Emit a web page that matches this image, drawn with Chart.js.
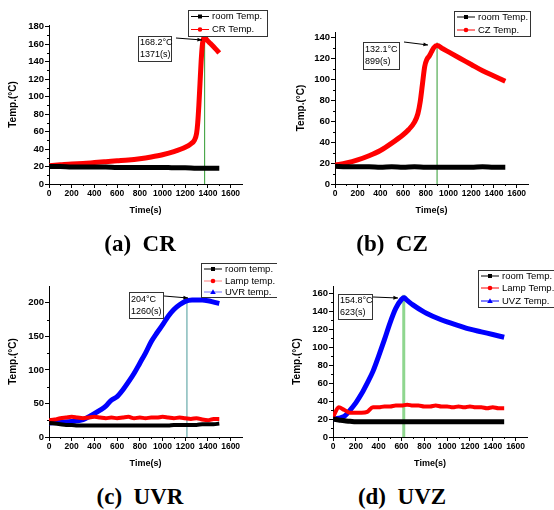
<!DOCTYPE html>
<html>
<head>
<meta charset="utf-8">
<script src="https://cdn.jsdelivr.net/npm/chart.js@4.4.1/dist/chart.umd.min.js"></script>
<style>
  body { margin: 0; background: #fff; width: 554px; height: 510px; position: relative; overflow: hidden; }
  .box { position: absolute; }
  .cap { position: absolute; font: bold 23px "Liberation Serif", serif; white-space: pre; transform: translate(-50%, -50%); color: #000; }
</style>
</head>
<body>
<div class="box" style="left:0;top:0"><canvas id="cA" width="277" height="216"></canvas></div>
<div class="box" style="left:277px;top:0"><canvas id="cB" width="277" height="216"></canvas></div>
<div class="box" style="left:0;top:250px"><canvas id="cC" width="277" height="219"></canvas></div>
<div class="box" style="left:277px;top:250px"><canvas id="cD" width="277" height="219"></canvas></div>
<div class="cap" style="left:140px;top:244px">(a)  CR</div>
<div class="cap" style="left:392px;top:244px">(b)  CZ</div>
<div class="cap" style="left:140px;top:497px">(c)  UVR</div>
<div class="cap" style="left:402px;top:497px">(d)  UVZ</div>
<script>
// ---- tick labels ----
var xTicks = [0, 200, 400, 600, 800, 1000, 1200, 1400, 1600];
var yTicksA = [0, 20, 40, 60, 80, 100, 120, 140, 160, 180];
var yTicksB = [0, 20, 40, 60, 80, 100, 120, 140];
var yTicksC = [0, 50, 100, 150, 200];
var yTicksD = [0, 20, 40, 60, 80, 100, 120, 140, 160];

// ---- (a) CR ----
var crTime = [0, 100, 200, 300, 400, 500, 600, 700, 800, 900, 1000, 1100, 1200, 1250, 1280, 1300, 1310, 1320, 1330, 1340, 1350, 1360, 1371, 1390, 1420, 1450, 1480, 1500];
var crTemp = [21, 22, 23, 23.5, 24.5, 25.5, 26.5, 27.5, 29, 31, 33.5, 37, 42, 46, 50, 58, 70, 90, 115, 140, 158, 166, 168.2, 165, 161, 157, 153, 150];
var roomTimeA = [0, 100, 200, 300, 400, 500, 600, 700, 800, 900, 1000, 1100, 1200, 1300, 1400, 1500];
var roomTempA = [20, 20, 19.5, 19.5, 19.5, 19.5, 19, 19, 19, 19, 19, 18.5, 18.5, 18, 18, 18];
var peakA = [1371, 168.2];

// ---- (b) CZ ----
var czTime = [0, 100, 200, 300, 400, 500, 600, 650, 700, 730, 750, 770, 790, 810, 830, 850, 870, 899, 950, 1000, 1100, 1200, 1300, 1400, 1500];
var czTemp = [18, 20, 23, 27, 32, 39, 47, 52, 59, 67, 78, 95, 112, 119, 122, 126, 130, 132.1, 129, 126, 120, 114, 108, 103, 98];
var roomTimeB = [0, 100, 200, 300, 400, 500, 600, 700, 800, 900, 1000, 1100, 1200, 1300, 1400, 1500];
var roomTempB = [17, 16.5, 16.5, 16.5, 16, 16.5, 16, 16.5, 16, 16, 16, 16, 16, 16.5, 16, 16];
var peakB = [899, 132.1];

// ---- (c) UVR ----
var uvrTime = [0, 100, 200, 300, 380, 450, 500, 550, 600, 650, 700, 750, 800, 850, 900, 950, 1000, 1050, 1100, 1150, 1200, 1260, 1300, 1350, 1400, 1450, 1500];
var uvrTemp = [21, 22, 23, 26, 33, 40, 46, 55, 60, 70, 82, 95, 110, 125, 142, 155, 167, 180, 190, 197, 202, 204, 204, 204, 203, 201, 199];
var stepTime = [0, 50, 100, 150, 200, 250, 300, 350, 400, 450, 500, 550, 600, 650, 700, 750, 800, 850, 900, 950, 1000, 1050, 1100, 1150, 1200, 1250, 1300, 1350, 1400, 1450, 1500];
var lampTempC = [25, 26, 28, 29, 30, 29, 28, 29, 30, 29, 28, 29, 28, 29, 30, 28, 29, 28, 29, 29, 30, 29, 28, 29, 28, 27, 28, 26, 25, 27, 27];
var roomTempC = [21, 20, 19, 18, 18, 17, 17, 17, 17, 17, 17, 17, 17, 17, 17, 17, 17, 17, 17, 17, 17, 17, 18, 18, 18, 18, 18, 19, 19, 19, 20];
var peakC = [1215, 204];

// ---- (d) UVZ ----
var uvzTime = [0, 50, 100, 150, 200, 250, 300, 350, 400, 450, 500, 550, 600, 623, 650, 700, 800, 900, 1000, 1100, 1200, 1300, 1400, 1500];
var uvzTemp = [20, 21, 23, 30, 38, 48, 60, 73, 90, 108, 127, 143, 153, 154.8, 152, 147, 139, 133, 128, 124, 120, 117, 114, 111];
var lampTempD = [22, 33, 30, 27, 27, 27, 28, 33, 33, 34, 34, 35, 35, 36, 35, 35, 34, 34, 35, 34, 34, 33, 34, 33, 34, 33, 33, 32, 33, 32, 32];
var roomTempD = [20, 19, 18, 17.5, 17, 17, 17, 17, 17, 17, 17, 17, 17, 17, 17, 17, 17, 17, 17, 17, 17, 17, 17, 17, 17, 17, 17, 17, 17, 17, 17];
var peakD = [620, 154.8];

function pts(xs, ys) {
  return xs.map(function (x, i) { return { x: x, y: ys[i] }; });
}

function marker(ctx, shape, x, y, color) {
  ctx.fillStyle = color;
  ctx.beginPath();
  if (shape === 'square') ctx.rect(x - 2, y - 2, 4, 4);
  else if (shape === 'circle') ctx.arc(x, y, 2.3, 0, Math.PI * 2);
  else { ctx.moveTo(x, y - 2.8); ctx.lineTo(x + 2.8, y + 2); ctx.lineTo(x - 2.8, y + 2); ctx.closePath(); }
  ctx.fill();
}

// vertical peak line, annotation box, arrow, framed legend, minor ticks
var decoPlugin = {
  id: 'deco',
  beforeDatasetsDraw: function (chart, args, o) {
    var ctx = chart.ctx, xs = chart.scales.x, ys = chart.scales.y;
    var px = xs.getPixelForValue(o.peak[0]);
    ctx.save();
    ctx.strokeStyle = o.vColor;
    ctx.lineWidth = o.vWidth;
    ctx.beginPath();
    ctx.moveTo(px, chart.chartArea.bottom);
    ctx.lineTo(px, ys.getPixelForValue(o.peak[1]) - 3);
    ctx.stroke();
    ctx.restore();
  },
  afterDraw: function (chart, args, o) {
    var ctx = chart.ctx, xs = chart.scales.x, ys = chart.scales.y, a = chart.chartArea;
    ctx.save();
    // minor ticks
    ctx.strokeStyle = '#000';
    ctx.lineWidth = 1;
    ctx.beginPath();
    for (var i = 0; i < xTicks.length; i++) {
      var mx = xs.getPixelForValue(xTicks[i] + 100);
      if (mx < a.right) { ctx.moveTo(Math.round(mx) + 0.5, a.bottom); ctx.lineTo(Math.round(mx) + 0.5, a.bottom + 2); }
    }
    var yt = o.yTicks, st = yt[1] - yt[0];
    for (var j = 0; j < yt.length; j++) {
      var my = ys.getPixelForValue(yt[j] + st / 2);
      if (my > a.top) { ctx.moveTo(a.left, Math.round(my) + 0.5); ctx.lineTo(a.left - 2, Math.round(my) + 0.5); }
    }
    ctx.stroke();

    // annotation box
    var n = o.note;
    ctx.fillStyle = '#fff';
    ctx.fillRect(n.x, n.y, n.w, n.h);
    ctx.strokeStyle = '#333';
    ctx.strokeRect(n.x + 0.5, n.y + 0.5, n.w, n.h);
    ctx.fillStyle = '#000';
    ctx.font = '9px "Liberation Sans", Arial, sans-serif';
    ctx.textBaseline = 'middle';
    ctx.textAlign = 'left';
    ctx.fillText(n.lines[0], n.x + 2, n.y + n.h * 0.28);
    ctx.fillText(n.lines[1], n.x + 2, n.y + n.h * 0.74);

    // arrow
    var ar = o.arrow;
    ctx.strokeStyle = '#000';
    ctx.beginPath();
    ctx.moveTo(ar[0], ar[1]);
    ctx.lineTo(ar[2], ar[3]);
    ctx.stroke();
    var ang = Math.atan2(ar[3] - ar[1], ar[2] - ar[0]);
    ctx.fillStyle = '#000';
    ctx.beginPath();
    ctx.moveTo(ar[2], ar[3]);
    ctx.lineTo(ar[2] - 5 * Math.cos(ang - 0.4), ar[3] - 5 * Math.sin(ang - 0.4));
    ctx.lineTo(ar[2] - 5 * Math.cos(ang + 0.4), ar[3] - 5 * Math.sin(ang + 0.4));
    ctx.closePath();
    ctx.fill();

    // framed legend
    var L = o.legend;
    ctx.fillStyle = '#fff';
    ctx.fillRect(L.x, L.y, L.w, L.h);
    ctx.strokeStyle = '#333';
    ctx.strokeRect(L.x + 0.5, L.y + 0.5, L.w, L.h);
    ctx.font = '9.5px "Liberation Sans", Arial, sans-serif';
    chart.data.datasets.forEach(function (ds, k) {
      var yy = L.y + L.rows[k];
      ctx.strokeStyle = ds.legendLine;
      ctx.lineWidth = 1;
      ctx.beginPath();
      ctx.moveTo(L.x + 3, yy);
      ctx.lineTo(L.x + 21, yy);
      ctx.stroke();
      marker(ctx, ds.shape, L.x + 12, yy, ds.borderColor);
      ctx.fillStyle = '#000';
      ctx.fillText(ds.label, L.x + 24, yy);
    });
    ctx.restore();
  }
};

function series(label, xs, ys, color, lineCol, shape, w) {
  return {
    label: label, data: pts(xs, ys), borderColor: color, backgroundColor: color,
    borderWidth: w, pointRadius: 0, cubicInterpolationMode: 'monotone', legendLine: lineCol, shape: shape
  };
}

function makeChart(id, p) {
  var fam = '"Liberation Sans", Arial, sans-serif';
  new Chart(document.getElementById(id), {
    type: 'line',
    data: { datasets: p.datasets },
    options: {
      responsive: false,
      animation: false,
      layout: { padding: { left: p.padLeft, top: p.top, right: p.padRight, bottom: 0 } },
      plugins: {
        legend: { display: false },
        tooltip: { enabled: false },
        deco: p.deco
      },
      scales: {
        x: {
          type: 'linear', min: 0, max: 1700,
          afterBuildTicks: function (s) { s.ticks = xTicks.map(function (v) { return { value: v }; }); },
          afterFit: function (s) { s.height = p.xH; },
          ticks: { color: '#000', font: { family: fam, size: 8.5, weight: 'bold' }, padding: 1, maxRotation: 0, autoSkip: false,
            callback: function (v) { return String(v); } },
          grid: { drawOnChartArea: false, drawTicks: true, tickLength: 4, color: '#000' },
          border: { display: true, color: '#000', width: 1 },
          title: { display: true, text: 'Time(s)', color: '#000', padding: 0,
            font: { family: fam, size: 9, weight: 'bold' } }
        },
        y: {
          type: 'linear', min: 0, max: p.yMax,
          afterBuildTicks: function (s) { s.ticks = p.yTicks.map(function (v) { return { value: v }; }); },
          afterFit: function (s) { s.width = p.yW; },
          ticks: { color: '#000', font: { family: fam, size: 9.5, weight: 'bold' }, padding: 1,
            callback: function (v) { return String(v); } },
          grid: { drawOnChartArea: false, drawTicks: true, tickLength: 4, color: '#000' },
          border: { display: true, color: '#000', width: 1 },
          title: { display: true, text: 'Temp.(°C)', color: '#000', padding: 0,
            font: { family: fam, size: 10, weight: 'bold' } }
        }
      }
    },
    plugins: [decoPlugin]
  });
}

makeChart('cA', {
  padLeft: 7, yW: 42, top: 25, padRight: 35, xH: 32, yMax: 182, yTicks: yTicksA,
  datasets: [
    series('room Temp.', roomTimeA, roomTempA, '#000000', '#000000', 'square', 5),
    series('CR Temp.', crTime, crTemp, '#ff0000', '#ff0000', 'circle', 5)
  ],
  deco: {
    yTicks: yTicksA, peak: peakA, vColor: '#2f9a2f', vWidth: 1,
    note: { x: 138, y: 36, w: 33, h: 25, lines: ['168.2°C', '1371(s)'] },
    arrow: [176, 38, 202, 40],
    legend: { x: 188, y: 10, w: 79, h: 26, rows: [6.5, 19.5] }
  }
});

makeChart('cB', {
  padLeft: 18, yW: 40, top: 32, padRight: 26, xH: 32, yMax: 145, yTicks: yTicksB,
  datasets: [
    series('room Temp.', roomTimeB, roomTempB, '#000000', '#000000', 'square', 5),
    series('CZ Temp.', czTime, czTemp, '#ff0000', '#ff0000', 'circle', 5)
  ],
  deco: {
    yTicks: yTicksB, peak: peakB, vColor: '#2f9a2f', vWidth: 1,
    note: { x: 86, y: 42, w: 36, h: 27, lines: ['132.1°C', '899(s)'] },
    arrow: [127, 42, 151, 45],
    legend: { x: 177, y: 11, w: 76, h: 25, rows: [6, 19] }
  }
});

makeChart('cC', {
  padLeft: 7, yW: 42, top: 36, padRight: 35, xH: 32, yMax: 225, yTicks: yTicksC,
  datasets: [
    series('room temp.', stepTime, roomTempC, '#000000', '#000000', 'square', 4),
    series('Lamp temp.', stepTime, lampTempC, '#ff0000', '#ff8080', 'circle', 4),
    series('UVR temp.', uvrTime, uvrTemp, '#0000ff', '#7070ff', 'triangle', 5)
  ],
  deco: {
    yTicks: yTicksC, peak: peakC, vColor: '#4a9a9a', vWidth: 1,
    note: { x: 129, y: 42, w: 34, h: 26, lines: ['204°C', '1260(s)'] },
    arrow: [164, 46, 188, 48],
    legend: { x: 201, y: 13, w: 80, h: 34, rows: [6, 18, 29] }
  }
});

makeChart('cD', {
  padLeft: 14, yW: 42, top: 36, padRight: 27, xH: 32, yMax: 168, yTicks: yTicksD,
  datasets: [
    series('room Temp.', stepTime, roomTempD, '#000000', '#000000', 'square', 5),
    series('Lamp Temp.', stepTime, lampTempD, '#ff0000', '#ff0000', 'circle', 4),
    series('UVZ Temp.', uvzTime, uvzTemp, '#0000ff', '#0000ff', 'triangle', 5)
  ],
  deco: {
    yTicks: yTicksD, peak: peakD, vColor: '#8fd68f', vWidth: 3,
    note: { x: 61, y: 44, w: 34, h: 25, lines: ['154.8°C', '623(s)'] },
    arrow: [96, 47, 121, 48],
    legend: { x: 201, y: 20, w: 76, h: 37, rows: [6, 18, 31] }
  }
});
</script>
</body>
</html>
